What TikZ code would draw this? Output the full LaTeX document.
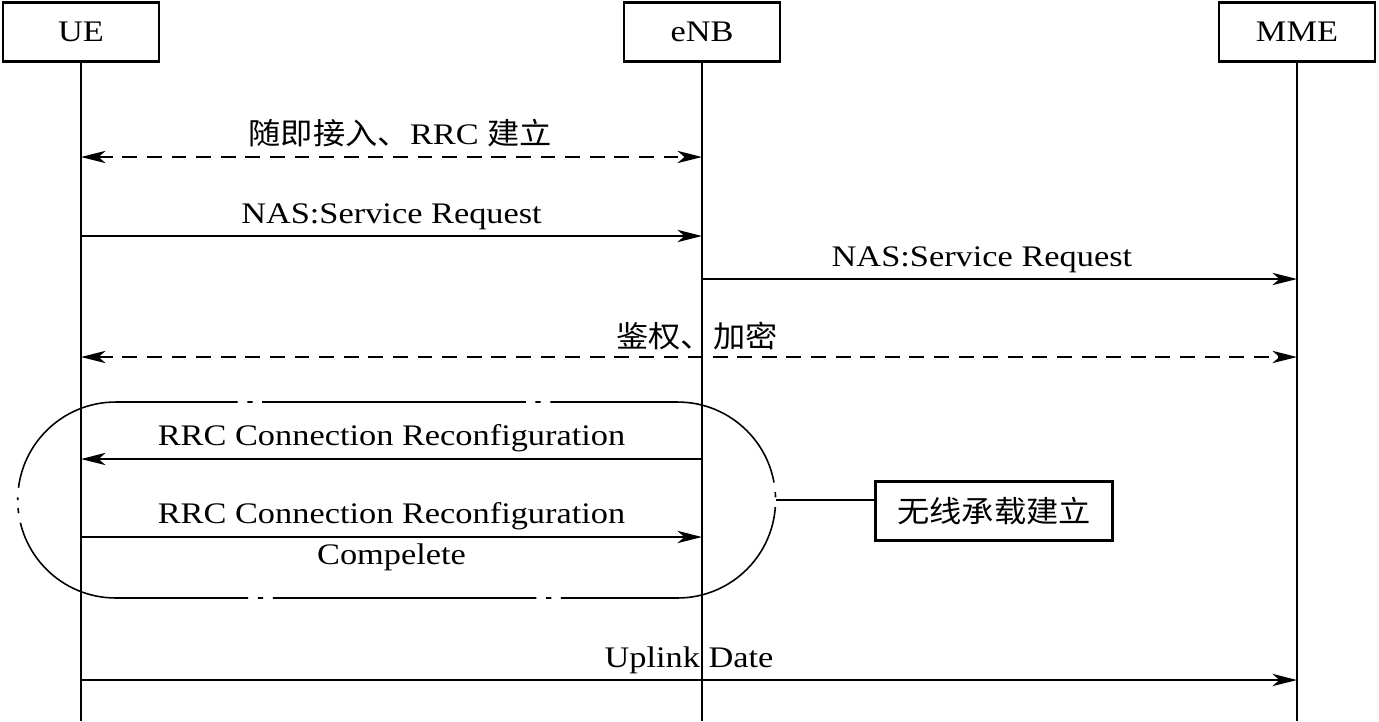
\documentclass[tikz,border=0pt]{standalone}
\usepackage{fontspec}
\setmainfont{Liberation Serif}[FakeStretch=1.15]
\newfontfamily\cjk{Noto Sans CJK SC}[FakeStretch=1.08]
\usepackage{tikz}
\usetikzlibrary{arrows.meta, calc}

\begin{document}
\begin{tikzpicture}[x=0.02cm, y=-0.02cm,
        every node/.style={font=\fontsize{17}{20}\selectfont},
        head/.style={draw, line width=1.6pt, minimum width=3.12cm, minimum height=1.18cm},
        msg/.style={line width=0.9pt, -{Stealth[length=14pt, width=7pt, inset=4pt]}},
        twoway/.style={line width=0.9pt, {Stealth[length=14pt, width=7pt, inset=4pt]}-{Stealth[length=14pt, width=7pt, inset=4pt]}, dash pattern=on 8.5pt off 5.5pt},
        group/.style={draw, line width=0.9pt, dash pattern=on 150pt off 5.5pt on 3pt off 5.5pt, dash phase=157pt}]
        \useasboundingbox (0,0) rectangle (1379,721);

        % entities
        \node[head] (ue) at (81,32) {UE};
        \node[head] (enb) at (702,32) {eNB};
        \node[head] (mme) at (1297,32) {MME};

        \draw[line width=0.9pt] (ue) -- (ue |- 0,721);
        \draw[line width=0.9pt] (enb) -- (enb |- 0,721);
        \draw[line width=0.9pt] (mme) -- (mme |- 0,721);

        % messages
        \draw[twoway] (ue |- 0,157) -- (enb |- 0,157) node[midway, above=2pt, xshift=5] {{\cjk 随即接入、}RRC {\cjk 建立}};
        \draw[msg] (ue |- 0,236) -- (enb |- 0,236) node[midway, above] {NAS:Service Request};
        \draw[msg] (enb |- 0,279) -- (mme |- 0,279) node[midway, above, xshift=-10] {NAS:Service Request};
        \draw[twoway] (ue |- 0,357) -- (mme |- 0,357) node[midway, above, xshift=4.5] {\cjk 鉴权、加密};
        \draw[msg] (enb |- 0,459) -- (ue |- 0,459) node[midway, above] {RRC Connection Reconfiguration};
        \draw[msg] (ue |- 0,537) -- (enb |- 0,537) node[midway, above] {RRC Connection Reconfiguration}
            node[midway, below] {Compelete};
        \draw[msg] (ue |- 0,680) -- (mme |- 0,680) node[midway, above] {Uplink Date};

        % radio bearer setup
        \node[minimum width=15.16cm, minimum height=3.92cm] (grp) at (397,500) {};
        \draw[group] (grp.west) arc[start angle=180, end angle=90, radius=1.96cm] -- ++(11.24cm,0)
            arc[start angle=90, end angle=-90, radius=1.96cm] -- ++(-11.24cm,0)
            arc[start angle=-90, end angle=-180, radius=1.96cm];
        \node[head, line width=1.3pt, minimum width=4.74cm] (rb) at (994,511) {\cjk 无线承载建立};
        \draw[line width=0.9pt] (grp.east) -- (grp.east -| rb.west);
    \end{tikzpicture}
\end{document}
